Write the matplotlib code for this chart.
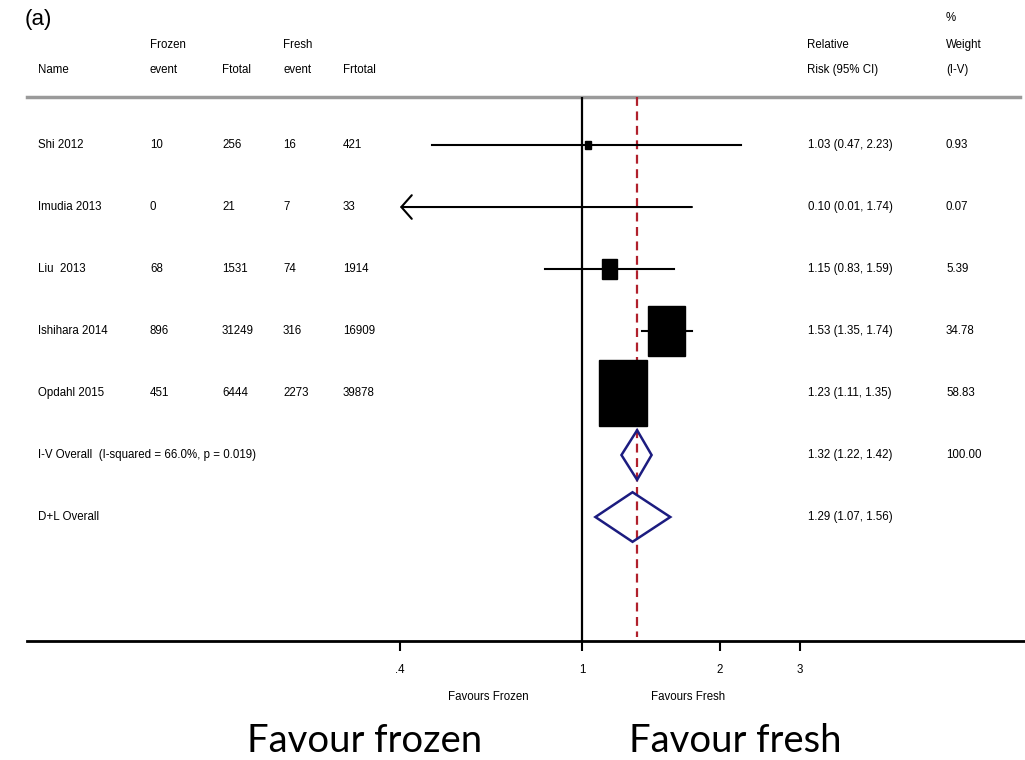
import numpy as np
import matplotlib
matplotlib.use("Agg")
import matplotlib.pyplot as plt
from matplotlib.patches import Rectangle, Polygon
from matplotlib.ticker import NullLocator

# study rows
names = ["Shi 2012", "Imudia 2013", "Liu  2013", "Ishihara 2014", "Opdahl 2015"]
frozen_event = [10, 0, 68, 896, 451]
frozen_total = [256, 21, 1531, 31249, 6444]
fresh_event = [16, 7, 74, 316, 2273]
fresh_total = [421, 33, 1914, 16909, 39878]
rr = [1.03, 0.10, 1.15, 1.53, 1.23]
rr_lo = [0.47, 0.01, 0.83, 1.35, 1.11]
rr_hi = [2.23, 1.74, 1.59, 1.74, 1.35]
weight = [0.93, 0.07, 5.39, 34.78, 58.83]

# pooled rows
pooled_names = ["I-V Overall  (I-squared = 66.0%, p = 0.019)", "D+L Overall"]
pooled_rr = [1.32, 1.29]
pooled_lo = [1.22, 1.07]
pooled_hi = [1.42, 1.56]
pooled_weight = ["100.00", ""]

tick_vals = [0.4, 1, 2, 3]
tick_labels = [".4", "1", "2", "3"]

small = dict(family=["Liberation Sans Narrow", "Liberation Sans"], fontsize=8.3, color="black")

fig = plt.figure(figsize=(10.25, 7.6), dpi=100)
ax = fig.add_axes([0, 0, 1, 1])
ax.set_xscale("log")
ax.set_xlim(0.0534, 9.305)
ax.set_ylim(9.919, -2.339)
ax.yaxis.set_visible(False)
for s in ["top", "left", "right"]:
    ax.spines[s].set_visible(False)
ax.spines["bottom"].set_position(("data", 8))
ax.spines["bottom"].set_bounds(0.0611, 9.305)
ax.spines["bottom"].set_linewidth(2)
ax.set_xticks(tick_vals)
ax.set_xticklabels(tick_labels)
ax.xaxis.set_minor_locator(NullLocator())
ax.tick_params(axis="x", direction="out", length=7, width=1.5, pad=9.5, labelsize=8.3)
for lab in ax.get_xticklabels():
    lab.set_family(["Liberation Sans Narrow", "Liberation Sans"])

tr = ax.get_yaxis_transform()
xmin_plot = 0.4
n = len(names)
top_y = -0.774

# header
ax.plot([27 / 1025, 1020 / 1025], [top_y, top_y], transform=tr, color="#9a9a9a", lw=2.5, clip_on=False)
ax.text(25 / 1025, -2.02, "(a)", transform=tr, fontsize=16, family="Liberation Sans", va="center", ha="left")
hdr = [(150, -1.613, "Frozen"), (283, -1.613, "Fresh"), (38, -1.21, "Name"), (150, -1.21, "event"),
       (222, -1.21, "Ftotal"), (283, -1.21, "event"), (343, -1.21, "Frtotal"),
       (807, -1.613, "Relative"), (807, -1.21, "Risk (95% CI)"),
       (946, -2.05, "%"), (946, -1.613, "Weight"), (946, -1.21, "(I-V)")]
for x, y, t in hdr:
    ax.text(x / 1025, y, t, transform=tr, va="center", ha="left", **small)

# reference lines
ax.vlines(1, top_y, 8, color="black", lw=1.6)
ax.vlines(pooled_rr[0], top_y, 7.93, color="#b0202c", lw=1.6, linestyles=(0, (4, 2.5)))

# studies
for i in range(n):
    y = i
    lo = max(rr_lo[i], xmin_plot)
    if rr_lo[i] < xmin_plot:
        ax.annotate("", xy=(xmin_plot, y), xytext=(rr_hi[i], y),
                    arrowprops=dict(arrowstyle="->,head_length=0.75,head_width=0.85", lw=1.5,
                                    color="black", shrinkA=0, shrinkB=0))
    else:
        ax.plot([lo, rr_hi[i]], [y, y], color="black", lw=1.5)
    if rr[i] >= xmin_plot:
        hw = 0.01576 * np.sqrt(weight[i])
        hh = 0.0694 * np.sqrt(weight[i])
        x0 = np.exp(np.log(rr[i]) - hw)
        x1 = np.exp(np.log(rr[i]) + hw)
        ax.add_patch(Rectangle((x0, y - hh), x1 - x0, 2 * hh, color="black", zorder=3))
    vals = [names[i], frozen_event[i], frozen_total[i], fresh_event[i], fresh_total[i]]
    for x, v in zip([38, 150, 222, 283, 343], vals):
        ax.text(x / 1025, y, str(v), transform=tr, va="center", ha="left", **small)
    ax.text(808 / 1025, y, f"{rr[i]:.2f} ({rr_lo[i]:.2f}, {rr_hi[i]:.2f})", transform=tr,
            va="center", ha="left", **small)
    ax.text(946 / 1025, y, f"{weight[i]:.2f}", transform=tr, va="center", ha="left", **small)

# pooled diamonds
for j in range(len(pooled_names)):
    y = n + j
    d = Polygon([(pooled_lo[j], y), (pooled_rr[j], y - 0.4), (pooled_hi[j], y), (pooled_rr[j], y + 0.4)],
                closed=True, fill=False, edgecolor="#1c1c80", lw=1.8, zorder=3)
    ax.add_patch(d)
    ax.text(38 / 1025, y, pooled_names[j], transform=tr, va="center", ha="left", **small)
    ax.text(808 / 1025, y, f"{pooled_rr[j]:.2f} ({pooled_lo[j]:.2f}, {pooled_hi[j]:.2f})", transform=tr,
            va="center", ha="left", **small)
    ax.text(946 / 1025, y, pooled_weight[j], transform=tr, va="center", ha="left", **small)

ax.text(488 / 1025, 8.9, "Favours Frozen", transform=tr, va="center", ha="center", **small)
ax.text(688 / 1025, 8.9, "Favours Fresh", transform=tr, va="center", ha="center", **small)

big = dict(family=["Lato", "DejaVu Sans"], fontsize=27.5, va="center", ha="center", color="black")
fig.text(365 / 1025, 1 - 741 / 760, "Favour frozen", **big)
fig.text(735 / 1025, 1 - 741 / 760, "Favour fresh", **big)

fig.savefig("out.png", dpi=100)
